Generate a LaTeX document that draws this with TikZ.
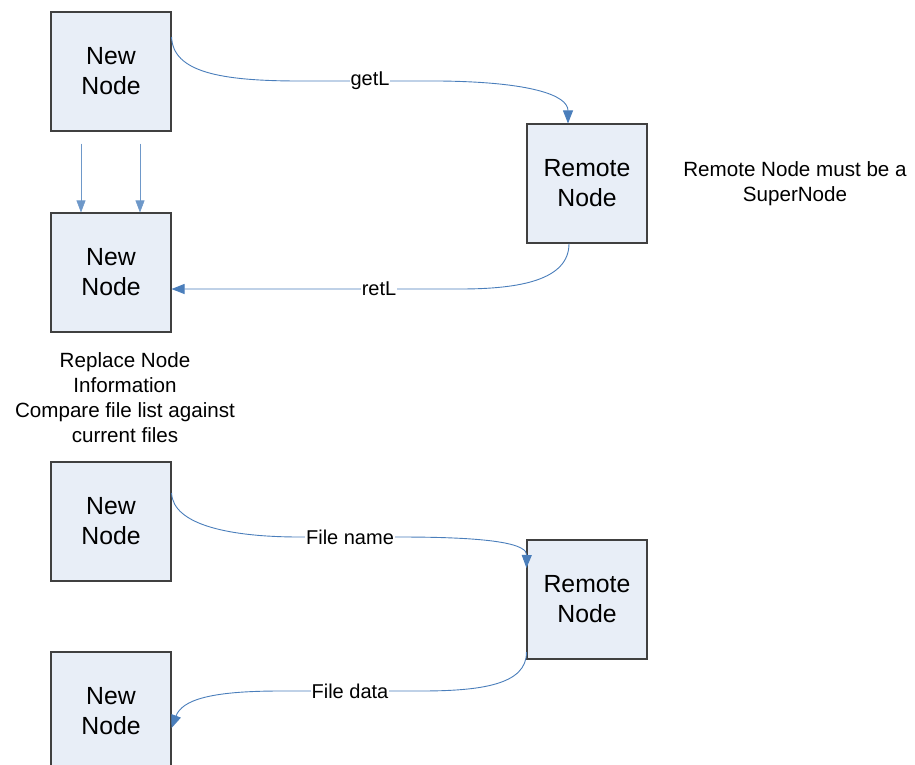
\documentclass[tikz,border=0pt]{standalone}
\usepackage{fontspec}
\setmainfont{Liberation Sans}
\usetikzlibrary{arrows.meta}
\definecolor{boxfill}{HTML}{E8EEF7}
\definecolor{boxline}{HTML}{404040}
\definecolor{conn}{HTML}{4A7EBB}
\begin{document}
\begin{tikzpicture}[x=1pt,y=-1pt,
  nodebox/.style={draw=boxline,line width=1.1pt,fill=boxfill,minimum width=120pt,minimum height=119pt,inner sep=0pt,align=center,font=\fontsize{24.8}{30}\selectfont},
  note/.style={align=center,inner sep=0pt,font=\fontsize{20.6}{25}\selectfont},
  lbl/.style={fill=white,inner sep=1pt,font=\fontsize{20}{25}\selectfont},
  conline/.style={draw=conn,line width=0.9pt,-{Triangle[length=13pt,width=10pt]}},
  thinline/.style={draw=conn!80,line width=0.6pt,-{Triangle[length=12pt,width=9pt]}}]
\useasboundingbox (0,0) rectangle (915,764);
\node[nodebox] (b1) at (111,71.5) {New\\Node};
\node[nodebox] (b2) at (111,272.5) {New\\Node};
\node[nodebox] (r1) at (587,183.5) {Remote\\Node};
\node[nodebox] (b3) at (111,521.5) {New\\Node};
\node[nodebox] (r2) at (587,599.5) {Remote\\Node};
\node[nodebox] (b4) at (111,711.5) {New\\Node};
\node[note] (n1) at (795,184) {Remote Node must be a\\SuperNode};
\node[note] (n2) at (125,397.5) {Replace Node\\Information\\Compare file list against\\current files};
% getL
\draw[conline] ([yshift=34.5pt]b1.east) .. controls (173,72) and (220,81) .. (300,81)
  -- node[lbl]{getL} (440,81) .. controls (530,82) and (568,95) .. ([xshift=-19pt]r1.north);
% vertical arrows
\draw[thinline] ([xshift=-30pt,yshift=-12pt]b1.south) -- ([xshift=-30pt]b2.north);
\draw[thinline] ([xshift=29pt,yshift=-12pt]b1.south) -- ([xshift=29pt]b2.north);
% retL
\draw[conline] ([xshift=-18pt]r1.south) .. controls (569,280) and (520,289) .. (460,289)
  -- node[lbl]{retL} (298,289) -- ([yshift=-16.5pt]b2.east);
% File name
\draw[conline] ([yshift=28.5pt]b3.east) .. controls (173,525) and (230,537) .. (300,537)
  -- node[lbl]{File name} (400,537) .. controls (500,537) and (527,545) .. ([yshift=31.5pt]r2.west);
% File data
\draw[conline] ([yshift=-52.5pt]r2.west) .. controls (527,685) and (480,691) .. (420,691)
  -- node[lbl]{File data} (280,691) .. controls (210,691) and (182,700) .. ([yshift=-16.5pt]b4.east);
\end{tikzpicture}
\end{document}
